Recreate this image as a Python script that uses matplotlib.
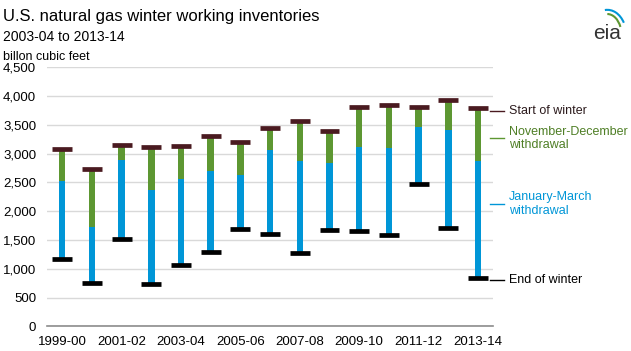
import numpy as np
import matplotlib
matplotlib.use("Agg")
import matplotlib.pyplot as plt
from matplotlib.transforms import blended_transform_factory
from matplotlib.patches import Arc

plt.rcParams["font.family"] = ["Liberation Sans", "DejaVu Sans"]

winters = ["1999-00", "2000-01", "2001-02", "2002-03", "2003-04", "2004-05",
           "2005-06", "2006-07", "2007-08", "2008-09", "2009-10", "2010-11",
           "2011-12", "2012-13", "2013-14"]
# billion cubic feet
start_of_winter = [3073, 2725, 3142, 3107, 3125, 3298, 3194, 3437, 3559, 3385,
                   3802, 3837, 3802, 3923, 3785]
end_of_december = [2522, 1724, 2892, 2372, 2557, 2696, 2627, 3066, 2870, 2835,
                   3113, 3101, 3460, 3413, 2870]
end_of_winter = [1163, 746, 1510, 729, 1059, 1285, 1684, 1597, 1267, 1666,
                 1649, 1580, 2465, 1701, 833]

MAROON = "#4a1a20"
GREEN = "#5d9732"
BLUE = "#0096d7"

fig = plt.figure(figsize=(6.31, 3.51), dpi=100)
ax = fig.add_axes([0.075, 0.0704, 0.706, 0.7379])

x = np.arange(len(winters))
s = np.array(start_of_winter)
d = np.array(end_of_december)
e = np.array(end_of_winter)

ax.bar(x, s - d, bottom=d, width=0.22, color=GREEN, zorder=2)
ax.bar(x, d - e, bottom=e, width=0.22, color=BLUE, zorder=2)
ax.hlines(s, x - 0.335, x + 0.335, color=MAROON, lw=3.4, zorder=3)
ax.hlines(e, x - 0.335, x + 0.335, color="black", lw=3.4, zorder=3)

ax.set_xlim(-0.5, len(winters) - 0.5)
ax.set_ylim(0, 4500)
ax.set_yticks(np.arange(0, 4501, 500))
ax.set_yticklabels([f"{v:,}" for v in range(0, 4501, 500)])
ax.set_xticks(x[::2])
ax.set_xticklabels(winters[::2])
ax.tick_params(length=0, labelsize=9.5, colors="black")
ax.tick_params(axis="y", pad=8)
ax.tick_params(axis="x", pad=7)
ax.grid(axis="y", color="#d9d9d9", lw=1, zorder=0)
ax.set_axisbelow(True)
for sp in ["top", "right", "left"]:
    ax.spines[sp].set_visible(False)
ax.spines["bottom"].set_color("#8c8c8c")
ax.spines["bottom"].set_linewidth(1.2)
ax.spines["bottom"].set_zorder(4)

# right-side labels
tr = blended_transform_factory(ax.transAxes, ax.transData)
labels = [
    (3743, "Start of winter", MAROON, "#2b1a1c"),
    (3264, "November-December\nwithdrawal", GREEN, "#4f7f26"),
    (2123, "January-March\nwithdrawal", BLUE, BLUE),
    (804, "End of winter", "black", "black"),
]
for yv, txt, lc, tc in labels:
    ax.plot([0.994, 1.025], [yv, yv], color=lc, lw=1, transform=tr, clip_on=False)
    ax.text(1.036, yv, txt, color=tc, fontsize=9, va="center", ha="left",
            transform=tr, linespacing=1.15)

fig.text(0.005, 0.975, "U.S. natural gas winter working inventories",
         fontsize=12, va="top", ha="left")
fig.text(0.005, 0.915, "2003-04 to 2013-14", fontsize=10, va="top", ha="left")
fig.text(0.005, 0.855, "billon cubic feet", fontsize=9, va="top", ha="left")

# eia logo
fig.text(0.962, 0.905, "eia", fontsize=15, color="#333333", ha="center",
         va="center")
lax = fig.add_axes([0.925, 0.87, 0.075, 0.12])
lax.set_xlim(0, 1)
lax.set_ylim(0, 1)
lax.axis("off")
lax.add_patch(Arc((0.5, 0.25), 0.8, 1.2, theta1=40, theta2=95, color=BLUE, lw=1.5))
lax.add_patch(Arc((0.5, 0.25), 0.6, 1.0, theta1=35, theta2=90, color=GREEN, lw=1.5))

fig.savefig("out.png", dpi=100)
